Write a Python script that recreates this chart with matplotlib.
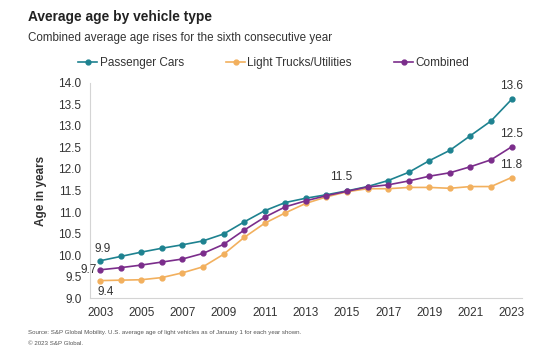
import matplotlib
matplotlib.use("Agg")
import matplotlib.pyplot as plt

years = list(range(2003, 2024))
passenger_cars = [9.87, 9.97, 10.07, 10.16, 10.24, 10.33, 10.49, 10.77, 11.03, 11.22, 11.32,
                  11.40, 11.49, 11.59, 11.73, 11.92, 12.19, 12.43, 12.77, 13.11, 13.61]
light_trucks = [9.41, 9.42, 9.43, 9.48, 9.59, 9.73, 10.02, 10.41, 10.74, 10.98, 11.20,
                11.35, 11.47, 11.54, 11.54, 11.57, 11.57, 11.55, 11.59, 11.59, 11.80]
combined = [9.66, 9.71, 9.77, 9.84, 9.91, 10.04, 10.25, 10.58, 10.88, 11.12, 11.26,
            11.38, 11.48, 11.58, 11.63, 11.72, 11.83, 11.91, 12.05, 12.21, 12.51]
yticks = [9.0, 9.5, 10.0, 10.5, 11.0, 11.5, 12.0, 12.5, 13.0, 13.5, 14.0]
xticks = list(range(2003, 2024, 2))

teal = "#1e8290"
orange = "#f2b05e"
purple = "#7b2d8b"
txt = "#333333"

plt.rcParams['font.family'] = ['Liberation Sans', 'DejaVu Sans']

fig = plt.figure(figsize=(5.38, 3.53), dpi=100)
ax = fig.add_axes([0.167, 0.155, 0.803, 0.611])

ax.plot(years, passenger_cars, color=teal, marker="o", markersize=3.5, lw=1.2, label="Passenger Cars")
ax.plot(years, light_trucks, color=orange, marker="o", markersize=3.5, lw=1.2, label="Light Trucks/Utilities")
ax.plot(years, combined, color=purple, marker="o", markersize=3.5, lw=1.2, label="Combined")

ax.set_xlim(2002.5, 2023.5)
ax.set_ylim(9, 14)
ax.set_yticks(yticks)
ax.set_yticklabels(["%.1f" % v for v in yticks])
ax.set_xticks(xticks)
ax.tick_params(length=0, labelsize=8.5, colors=txt, pad=6)
for s in ["top", "right"]:
    ax.spines[s].set_visible(False)
for s in ["left", "bottom"]:
    ax.spines[s].set_color("#d4d4d4")
ax.set_ylabel("Age in years", fontsize=8.5, fontweight="bold", color=txt, labelpad=8)

# data labels
lab = dict(fontsize=8.5, color=txt)
ax.annotate("%.1f" % passenger_cars[0], (years[0], passenger_cars[0]), xytext=(-4, 4),
            textcoords="offset points", ha="left", va="bottom", **lab)
ax.annotate("%.1f" % combined[0], (years[0], combined[0]), xytext=(-2, 0),
            textcoords="offset points", ha="right", va="center", **lab)
ax.annotate("%.1f" % light_trucks[0], (years[0], light_trucks[0]), xytext=(-2, -4),
            textcoords="offset points", ha="left", va="top", **lab)
ax.annotate("%.1f" % combined[12], (years[12], combined[12]), xytext=(-4, 6),
            textcoords="offset points", ha="center", va="bottom", **lab)
for series in [passenger_cars, combined, light_trucks]:
    ax.annotate("%.1f" % series[-1], (years[-1], series[-1]), xytext=(0, 5),
                textcoords="offset points", ha="center", va="bottom", **lab)

fig.legend(loc="center", bbox_to_anchor=(0.509, 0.822), ncol=3, frameon=False,
           fontsize=8.5, handlelength=1.6, handletextpad=0.2, columnspacing=3.6,
           labelcolor=txt)

fig.text(0.052, 0.953, "Average age by vehicle type", fontsize=9.9, fontweight="bold",
         color="#222222", va="center")
fig.text(0.052, 0.893, "Combined average age rises for the sixth consecutive year", fontsize=8.4,
         color=txt, va="center")
fig.text(0.052, 0.057, "Source: S&P Global Mobility. U.S. average age of light vehicles as of January 1 for each year shown.",
         fontsize=4.4, color="#555555", va="center")
fig.text(0.052, 0.026, "\u00a9 2023 S&P Global.", fontsize=4.4, color="#555555", va="center")

fig.savefig("out.png", dpi=100)
